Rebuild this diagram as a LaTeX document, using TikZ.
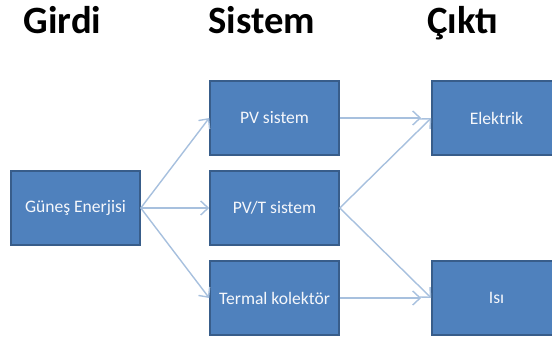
\documentclass[tikz,border=0pt]{standalone}
\usepackage{fontspec}
\setmainfont{Carlito}
\usepackage{tikz}
\usetikzlibrary{arrows.meta, positioning}
\definecolor{boxfill}{HTML}{4F81BD}
\definecolor{boxline}{HTML}{385D8A}
\definecolor{flowcol}{HTML}{A7C0DE}
\tikzset{
  flowbox/.style={draw=boxline, line width=0.9pt, fill=boxfill, align=center,
                  font=\fontsize{10}{12}\selectfont, text=white!94!boxfill,
                  minimum width=2.58cm, minimum height=1.48cm, inner sep=2pt},
  flowarrow/.style={-{Straight Barb[length=1.5mm, width=2.8mm]}, line width=0.8pt, flowcol},
  headlabel/.style={font=\fontsize{22}{24}\selectfont\bfseries, anchor=base}
}
\begin{document}
\begin{tikzpicture}

% --- Frame (reference proportions) ---
\useasboundingbox (0,0) rectangle (11.04,-6.76);

% --- Column positions ---
\def\xin{1.51}
\def\xsys{5.49}
\def\xout{9.93}

% --- Column titles ---
\node[headlabel] (tin)  at (1.25,-0.68) {Girdi};
\node[headlabel] (tsys) at (5.24,-0.68) {Sistem};
\node[headlabel] (tout) at (9.26,-0.68) {Çıktı};

% --- Input ---
\node[flowbox] (sun) at (\xin,-4.16) {Güneş Enerjisi};

% --- Systems ---
\node[flowbox] (pv)  at (\xsys,-2.36) {PV sistem};
\node[flowbox] (pvt) at (\xsys,-4.16) {PV/T sistem};
\node[flowbox] (tk)  at (\xsys,-5.96) {Termal kolektör};

% --- Outputs ---
\node[flowbox] (el)  at (\xout,-2.36) {Elektrik};
\node[flowbox] (isi) at (\xout,-5.96) {Isı};

% --- Input to systems ---
\draw[flowarrow] (sun.east) -- (pv.west);
\draw[flowarrow] (sun.east) -- (pvt.west);
\draw[flowarrow] (sun.east) -- (tk.west);

% --- Systems to outputs ---
\draw[flowarrow, shorten >=0.2cm] (pv.east) -- (el.west);
\draw[flowarrow] (pvt.east) -- (el.west);
\draw[flowarrow] (pvt.east) -- (isi.west);
\draw[flowarrow, shorten >=0.2cm] (tk.east) -- (isi.west);

\end{tikzpicture}
\end{document}
